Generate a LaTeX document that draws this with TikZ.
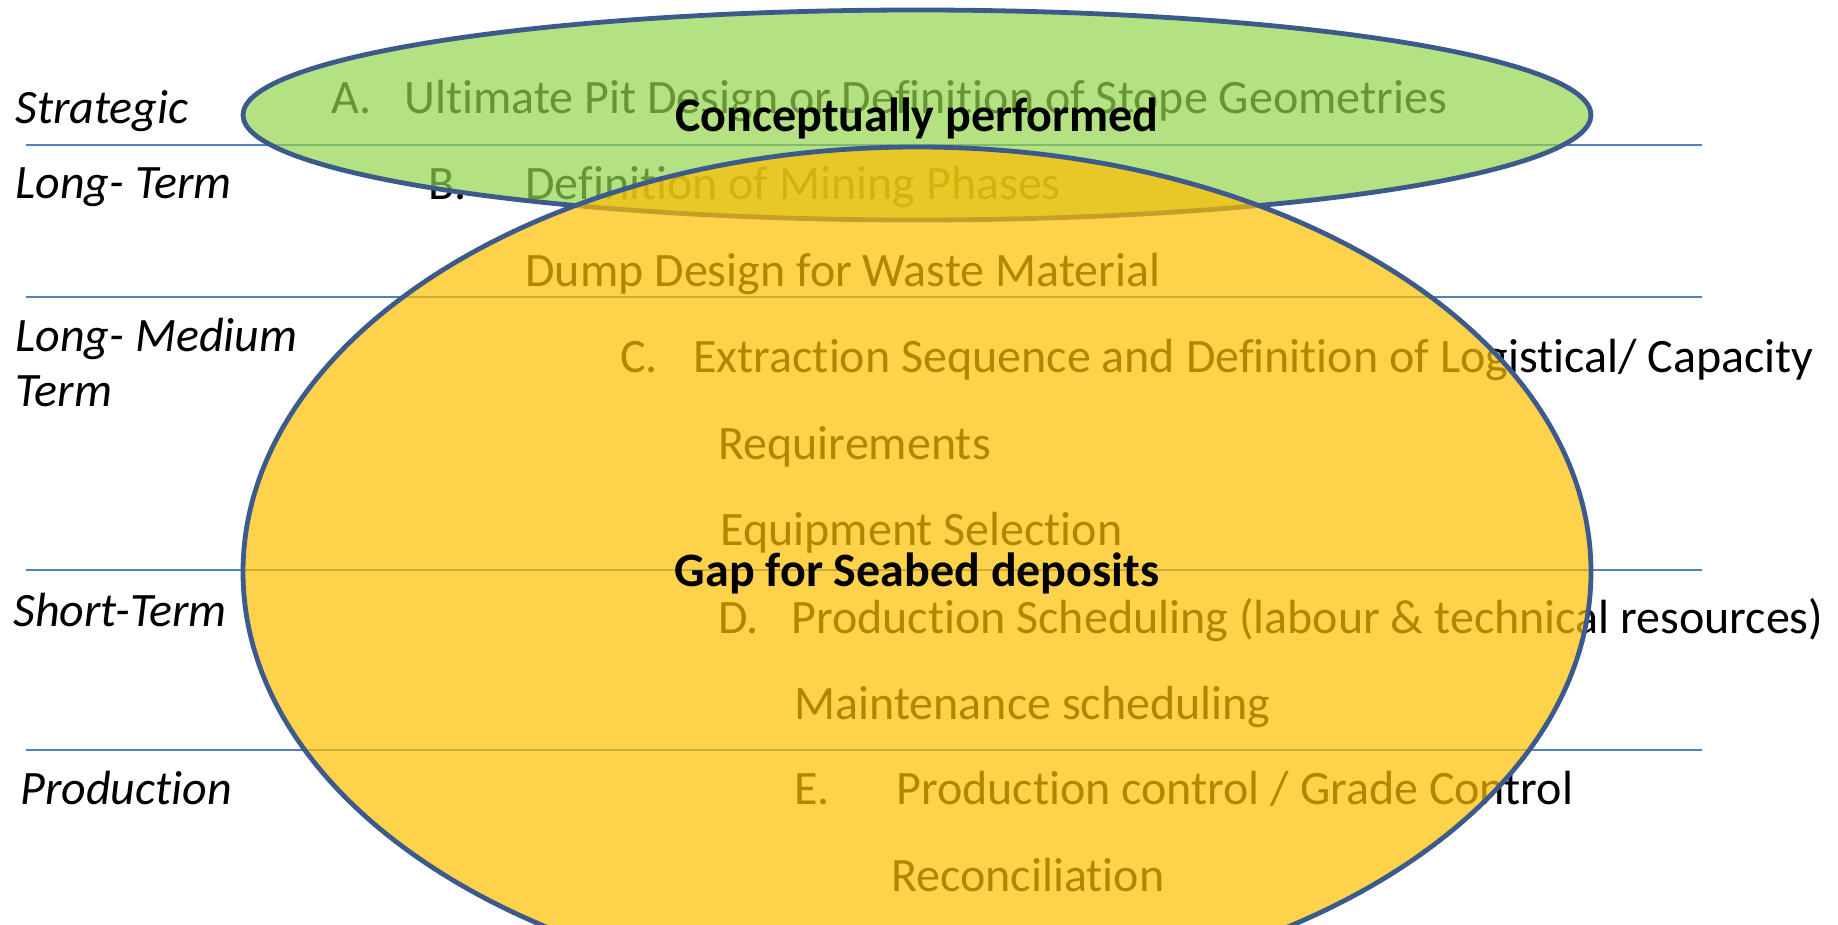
\documentclass[tikz,border=0pt]{standalone}
\usepackage{fontspec}
\setmainfont{Carlito}[Ligatures={NoCommon,NoContextual},Contextuals=NoAlternate]
\definecolor{rulerblue}{RGB}{79,129,189}
\definecolor{rimblue}{RGB}{60,90,140}
\definecolor{leafgreen}{RGB}{148,212,76}
\definecolor{sungold}{RGB}{255,191,0}
\tikzset{
  horizon/.style={draw=rulerblue, line width=1.1pt},
  term/.style={anchor=base west, inner sep=0pt, font=\itshape\fontsize{24}{29}\selectfont},
  task/.style={anchor=base west, inner sep=0pt, font=\fontsize{24}{29}\selectfont},
  verdict/.style={anchor=base, inner sep=0pt, font=\bfseries\fontsize{24}{29}\selectfont},
  conceptual/.style={draw=rimblue, line width=2.4pt, fill=leafgreen, fill opacity=0.7},
  seabed/.style={draw=rimblue, line width=2.4pt, fill=sungold, fill opacity=0.7}
}

\begin{document}
\begin{tikzpicture}[x=0.5pt, y=-0.5pt]
	\clip (0,0) rectangle (1838,925);
	% planning horizons
	\node[term] (strategic) at (15,124) {Strategic};
	\node[term] (longterm) at (15,199) {Long- Term};
	\node[term] (longmedium) at (15,352) {Long- Medium};
	\node[term] (lmterm) at (15,407) {Term};
	\node[term] (shortterm) at (13,626) {Short-Term};
	\node[term] (production) at (20,804) {Production};
	\draw[horizon] (26,145) -- (1702,145);
	\draw[horizon] (26,297) -- (1702,297);
	\draw[horizon] (26,570) -- (1702,570);
	\draw[horizon] (26,750) -- (1702,750);
	% planning tasks
	\node[task] (letterA) at (331,114) {A.};
	\node[task] (taskA) at (404,114) {Ultimate Pit Design or Definition of Stope Geometries};
	\node[task] (letterB) at (428,200) {B.};
	\node[task] (taskB) at (525,200) {Definition of Mining Phases};
	\node[task] (dump) at (525,287) {Dump Design for Waste Material};
	\node[task] (letterC) at (620,372) {C.};
	\node[task] (taskC) at (693,372) {Extraction Sequence and Definition of Logistical/ Capacity};
	\node[task] (require) at (718,459) {Requirements};
	\node[task] (equip) at (720,545) {Equipment Selection};
	\node[task] (letterD) at (718,633) {D.};
	\node[task] (taskD) at (791,633) {Production Scheduling (labour \& technical resources)};
	\node[task] (maint) at (794,719) {Maintenance scheduling};
	\node[task] (letterE) at (794,804) {E.};
	\node[task] (taskE) at (896,804) {Production control / Grade Control};
	\node[task] (reconcile) at (891,891) {Reconciliation};
	% coverage
	\draw[conceptual] (917,115) ellipse [x radius=337pt, y radius=52.5pt];
	\draw[seabed] (917,572) ellipse [x radius=337pt, y radius=212.5pt];
	\node[verdict] (performed) at (917,132) {Conceptually performed};
	\node[verdict] (gap) at (917,586) {Gap for Seabed deposits};
\end{tikzpicture}
\end{document}
